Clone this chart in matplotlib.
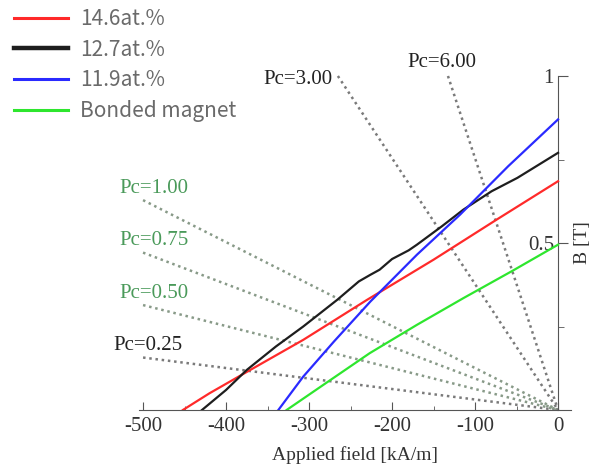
import numpy as np
import matplotlib
matplotlib.use('Agg')
import matplotlib.pyplot as plt

plt.rcParams['axes.unicode_minus'] = False

# demagnetization curves (H in kA/m, B in T)
h_146 = [-452, -420, -375, -307, -230, -150, -74, 0]
b_146 = [0.0, 0.05, 0.114, 0.21, 0.33, 0.45, 0.57, 0.685]

h_127 = [-429, -400, -375, -340, -307, -266, -240, -226, -215, -200, -190, -180, -170, -140, -114, -80, -49, 0]
b_127 = [0.0, 0.06, 0.12, 0.19, 0.25, 0.33, 0.385, 0.405, 0.42, 0.452, 0.465, 0.478, 0.495, 0.55, 0.60, 0.655, 0.695, 0.77]

h_119 = [-337, -307, -270, -226, -170, -118, -60, 0]
b_119 = [0.0, 0.10, 0.205, 0.325, 0.465, 0.585, 0.73, 0.87]

h_bond = [-327, -280, -227, -170, -114, -54, 0]
b_bond = [0.0, 0.08, 0.17, 0.255, 0.335, 0.418, 0.495]

series_labels = ['14.6at.%', '12.7at.%', '11.9at.%', 'Bonded magnet']

# permeance coefficients for the load lines
pc_values = [0.25, 0.50, 0.75, 1.00, 3.00, 6.00]
mu0 = 4 * np.pi * 1e-7

xticks = [-500, -400, -300, -200, -100, 0]
yticks = [0.5, 1]
ytick_labels = ['0.5', '1']

serif = 'Liberation Serif'
fig = plt.figure(figsize=(6.01, 4.66), dpi=100)
ax = fig.add_axes([138.9 / 601, 56 / 466, 431.6 / 601, 334 / 466])
ax.set_xlim(-505, 15)
ax.set_ylim(0, 1.0)

# load lines
for pc in pc_values:
    slope = pc * mu0 * 1e3
    h_end = max(-500, -1.0 / slope)
    green = pc in (0.5, 0.75, 1.0)
    lc = '#889a88' if green else '#7a7a7a'
    ax.plot([h_end, 0], [-slope * h_end, 0], color=lc, lw=1.8,
            linestyle=(0, (1, 1.5)), clip_on=False, zorder=1)
    txt = 'Pc=%.2f' % pc
    tc = '#4a9a5a' if green else '#222222'
    if pc <= 1.0:
        x0 = -536 if pc == 0.25 else -528
        ax.text(x0, -slope * h_end + 0.035, txt, color=tc, fontsize=15,
                family=serif, ha='left', va='center')
    elif pc == 3.0:
        ax.text(h_end - 6, 0.99, txt, color=tc, fontsize=15,
                family=serif, ha='right', va='center')
    else:
        ax.text(h_end - 7, 1.04, txt, color=tc, fontsize=15,
                family=serif, ha='center', va='center')

l1, = ax.plot(h_146, b_146, color='#ff2a2a', lw=1.6, zorder=3)
l2, = ax.plot(h_127, b_127, color='#1e1e1e', lw=1.6, zorder=3)
l3, = ax.plot(h_119, b_119, color='#2a2aff', lw=1.6, zorder=3)
l4, = ax.plot(h_bond, b_bond, color='#2ee62e', lw=1.6, zorder=3)

# spines
for s in ['top', 'right']:
    ax.spines[s].set_visible(False)
ax.spines['left'].set_position(('data', 0))
ax.spines['bottom'].set_position(('data', 0))
ax.spines['left'].set_color('#555555')
ax.spines['bottom'].set_color('#555555')

ax.set_xticks(xticks)
ax.set_xticks(np.arange(-450, 0, 100), minor=True)
ax.set_yticks(yticks)
ax.set_yticklabels(ytick_labels)
ax.set_yticks([0.25, 0.75], minor=True)
ax.tick_params(axis='x', which='major', direction='in', length=6, color='#555555',
               labelsize=15, labelcolor='#333333', pad=5)
ax.tick_params(axis='x', which='minor', direction='in', length=3, color='#555555')
ax.tick_params(axis='y', which='major', direction='in', length=7, color='#555555',
               labelsize=15, labelcolor='#333333', pad=3)
ax.tick_params(axis='y', which='minor', direction='in', length=4, color='#555555')
for lab in ax.get_xticklabels() + ax.get_yticklabels():
    lab.set_family(serif)

ax.set_xlabel('Applied field [kA/m]', family=serif, fontsize=14, color='#333333', labelpad=7)
ax.text(30, 0.5, 'B [T]', rotation=90, family=serif, fontsize=14, color='#333333',
        ha='center', va='center')

leg = fig.legend([l1, l2, l3, l4], series_labels, loc='upper left',
                 bbox_to_anchor=(14 / 601, 1 - 8 / 466), frameon=False,
                 prop={'family': 'Noto Sans CJK JP', 'size': 15},
                 handlelength=2.6, handletextpad=0.55, labelspacing=0.42,
                 borderpad=0, borderaxespad=0)
for t in leg.get_texts():
    t.set_color('#6a6a6a')
for hl, w in zip(leg.legend_handles, [2.2, 3.2, 2.2, 2.2]):
    hl.set_linewidth(w)

fig.savefig('out.png', dpi=100)
